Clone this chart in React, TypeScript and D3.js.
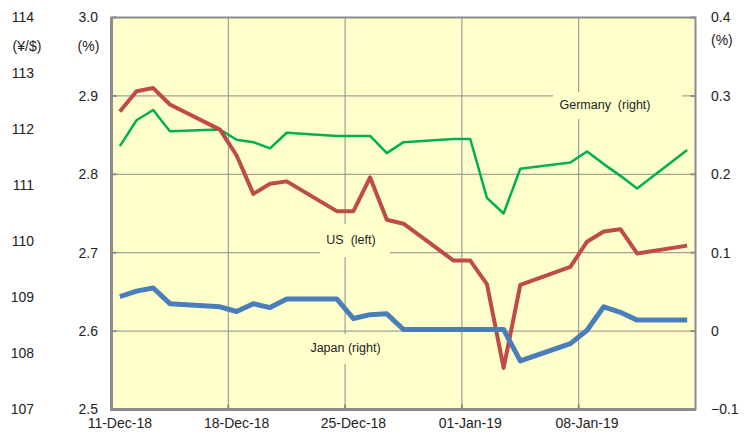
import React, { useEffect, useRef } from 'react';
import * as d3 from 'd3';

// trading days shown on the chart
const dates = [
  '2018-12-11', '2018-12-12', '2018-12-13', '2018-12-14', '2018-12-17',
  '2018-12-18', '2018-12-19', '2018-12-20', '2018-12-21', '2018-12-24',
  '2018-12-25', '2018-12-26', '2018-12-27', '2018-12-28', '2018-12-31',
  '2019-01-01', '2019-01-02', '2019-01-03', '2019-01-04', '2019-01-07',
  '2019-01-08', '2019-01-09', '2019-01-10', '2019-01-11', '2019-01-14'
];

// US 10y yield, left axis (%)
const usYield = [
  2.880, 2.906, 2.910, 2.889, 2.857, 2.824, 2.775, 2.788, 2.791, 2.753,
  2.753, 2.796, 2.742, 2.737, 2.690, 2.690, 2.660, 2.553, 2.659, 2.682,
  2.714, 2.727, 2.730, 2.699, 2.709
];

// Germany 10y yield, right axis (%)
const germanyYield = [
  0.236, 0.269, 0.282, 0.255, 0.257, 0.244, 0.241, 0.233, 0.253, 0.249,
  0.249, 0.249, 0.227, 0.241, 0.245, 0.245, 0.170, 0.150, 0.207, 0.215,
  0.229, 0.213, 0.198, 0.182, 0.231
];

// Japan 10y yield, right axis (%)
const japanYield = [
  0.044, 0.051, 0.055, 0.035, 0.031, 0.025, 0.035, 0.030, 0.041, 0.041,
  0.016, 0.021, 0.022, 0.002, 0.002, 0.002, 0.002, 0.002, -0.038, -0.016,
  0.001, 0.031, 0.024, 0.014, 0.014
];

const xTickDates = ['2018-12-11', '2018-12-18', '2018-12-25', '2019-01-01', '2019-01-08'];
const leftTicks = [2.5, 2.6, 2.7, 2.8, 2.9, 3.0];
const rightTicks = [-0.1, 0, 0.1, 0.2, 0.3, 0.4];
const yenTicks = [107, 108, 109, 110, 111, 112, 113, 114];

function App() {
  const ref = useRef<SVGSVGElement>(null);

  useEffect(() => {
    document.body.style.margin = '0';
    const svg = d3.select(ref.current);
    svg.selectAll('*').remove();

    const width = 747, height = 439;
    const margin = { top: 17.5, right: 51.5, bottom: 29.5, left: 111.5 };
    const plotW = width - margin.left - margin.right;
    const plotH = height - margin.top - margin.bottom;
    const font = 'Liberation Sans, Arial, sans-serif';
    const grid = '#8c8c8c';

    const parse = d3.timeParse('%Y-%m-%d');
    const days = dates.map(d => d3.timeHour.offset(parse(d)!, 12));

    const x = d3.scaleTime()
      .domain([parse('2018-12-11')!, parse('2019-01-15')!])
      .range([margin.left, margin.left + plotW]);
    const yLeft = d3.scaleLinear().domain([2.5, 3.0]).range([margin.top + plotH, margin.top]);
    const yRight = d3.scaleLinear().domain([-0.1, 0.4]).range([margin.top + plotH, margin.top]);
    const yYen = d3.scaleLinear().domain([107, 114]).range([margin.top + plotH, margin.top]);

    // plot background
    svg.append('rect')
      .attr('x', margin.left).attr('y', margin.top)
      .attr('width', plotW).attr('height', plotH)
      .attr('fill', '#FFFFCC');

    // gridlines
    svg.append('g').selectAll('line')
      .data(leftTicks.slice(1, -1)).join('line')
      .attr('x1', margin.left).attr('x2', margin.left + plotW)
      .attr('y1', d => yLeft(d)).attr('y2', d => yLeft(d))
      .attr('stroke', grid).attr('stroke-width', 1);
    svg.append('g').selectAll('line')
      .data(xTickDates.slice(1)).join('line')
      .attr('x1', d => x(parse(d)!)).attr('x2', d => x(parse(d)!))
      .attr('y1', margin.top).attr('y2', margin.top + plotH)
      .attr('stroke', grid).attr('stroke-width', 1);

    // label boxes hide the gridlines underneath
    const notes = [
      { text: 'Germany  (right)', x: 605, y: 105, box: [553, 92, 129, 27] },
      { text: 'US  (left)', x: 351, y: 240, box: [320, 224, 70, 33] },
      { text: 'Japan (right)', x: 345.5, y: 348, box: [310, 334, 72, 30] }
    ];
    svg.append('g').selectAll('rect')
      .data(notes).join('rect')
      .attr('x', d => d.box[0]).attr('y', d => d.box[1])
      .attr('width', d => d.box[2]).attr('height', d => d.box[3])
      .attr('fill', '#FFFFCC');

    // plot border
    svg.append('rect')
      .attr('x', margin.left).attr('y', margin.top)
      .attr('width', plotW).attr('height', plotH)
      .attr('fill', 'none').attr('stroke', grid).attr('stroke-width', 2);
    svg.append('path')
      .attr('d', `M${margin.left},${margin.top}V${margin.top + plotH}H${margin.left + plotW}`)
      .attr('fill', 'none').attr('stroke', grid).attr('stroke-width', 3);

    // small ticks on the axes
    svg.append('g').selectAll('line')
      .data(leftTicks).join('line')
      .attr('x1', margin.left).attr('x2', margin.left + 5)
      .attr('y1', d => yLeft(d)).attr('y2', d => yLeft(d))
      .attr('stroke', grid).attr('stroke-width', 2);
    svg.append('g').selectAll('line')
      .data(rightTicks).join('line')
      .attr('x1', margin.left + plotW - 5).attr('x2', margin.left + plotW)
      .attr('y1', d => yRight(d)).attr('y2', d => yRight(d))
      .attr('stroke', grid).attr('stroke-width', 2);
    svg.append('g').selectAll('line')
      .data(xTickDates).join('line')
      .attr('x1', d => x(parse(d)!)).attr('x2', d => x(parse(d)!))
      .attr('y1', margin.top + plotH - 5).attr('y2', margin.top + plotH)
      .attr('stroke', grid).attr('stroke-width', 2);

    // series
    const line = (y: d3.ScaleLinear<number, number>) =>
      d3.line<number>().x((d, i) => x(days[i])).y(d => y(d));

    svg.append('path').datum(germanyYield)
      .attr('d', line(yRight))
      .attr('fill', 'none').attr('stroke', '#00B050').attr('stroke-width', 2.5)
      .attr('stroke-linejoin', 'round');
    svg.append('path').datum(usYield)
      .attr('d', line(yLeft))
      .attr('fill', 'none').attr('stroke', '#BE4B48').attr('stroke-width', 4)
      .attr('stroke-linejoin', 'round');
    svg.append('path').datum(japanYield)
      .attr('d', line(yRight))
      .attr('fill', 'none').attr('stroke', '#4A7EBB').attr('stroke-width', 5)
      .attr('stroke-linejoin', 'round');

    // annotations (keep the double spaces)
    svg.append('g').selectAll('text')
      .data(notes).join('text')
      .attr('x', d => d.x).attr('y', d => d.y)
      .attr('dy', '0.35em')
      .attr('text-anchor', 'middle')
      .style('font-family', font).style('font-size', '12.5px')
      .style('white-space', 'pre')
      .attr('fill', '#222')
      .text(d => d.text);

    // tick labels
    const tickText = (g: any) => g
      .style('font-family', font).style('font-size', '14px')
      .attr('fill', '#222').attr('dy', '0.35em');

    svg.append('g').selectAll('text')
      .data(yenTicks).join('text')
      .attr('x', 34).attr('y', d => yYen(d))
      .attr('text-anchor', 'end')
      .call(tickText)
      .text(d => d);
    svg.append('text')
      .attr('x', 27).attr('y', 46.5).attr('text-anchor', 'middle')
      .call(tickText).text('(¥/$)');

    svg.append('g').selectAll('text')
      .data(leftTicks).join('text')
      .attr('x', 98).attr('y', d => yLeft(d))
      .attr('text-anchor', 'end')
      .call(tickText)
      .text(d => d3.format('.1f')(d));
    svg.append('text')
      .attr('x', 88.5).attr('y', 46.5).attr('text-anchor', 'middle')
      .call(tickText).text('(%)');

    svg.append('g').selectAll('text')
      .data(rightTicks).join('text')
      .attr('x', 711).attr('y', d => yRight(d))
      .attr('text-anchor', 'start')
      .call(tickText)
      .text(d => d === 0 ? '0' : d3.format('.1f')(d));
    svg.append('text')
      .attr('x', 711).attr('y', 40).attr('text-anchor', 'start')
      .call(tickText).text('(%)');

    svg.append('g').selectAll('text')
      .data(xTickDates).join('text')
      .attr('x', d => x(d3.timeHour.offset(parse(d)!, 12)))
      .attr('y', 423)
      .attr('text-anchor', 'middle')
      .call(tickText)
      .text(d => d3.timeFormat('%d-%b-%y')(parse(d)!));
  });

  return (
    <svg ref={ref} width={747} height={439} style={{ display: 'block', background: '#fff' }}></svg>
  );
}

export default App;
